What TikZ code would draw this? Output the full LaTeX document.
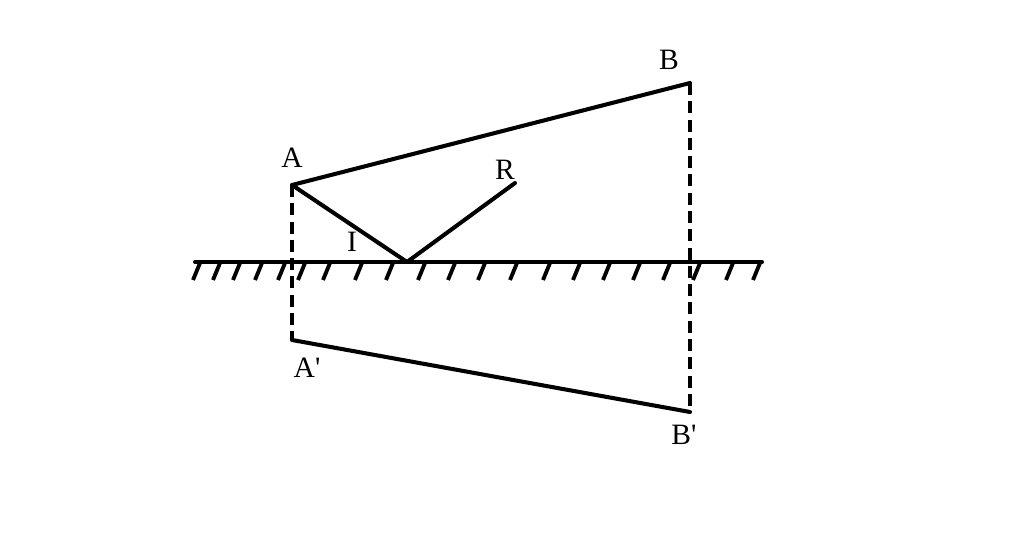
\documentclass[tikz,border=0pt]{standalone}
\usepackage{fontspec}
\setmainfont{Liberation Serif}
\newfontfamily\lblfont{Liberation Serif}
\begin{document}
\begin{tikzpicture}[x=0.01cm,y=-0.01cm,
  ray/.style={line width=1.15pt,line cap=round,line join=round},
  guide/.style={line width=1.15pt,dash pattern=on 3.4pt off 1.8pt},
  hatch/.style={line width=1.1pt},
  lbl/.style={font=\lblfont\fontsize{8.4}{10}\selectfont,inner sep=0pt}]
\useasboundingbox (0,0) rectangle (1024,534);
\coordinate (A) at (292,185);
\coordinate (B) at (690,83);
\coordinate (Ap) at (292,340);
\coordinate (Bp) at (690,412);
\coordinate (I) at (407,262);
\coordinate (R) at (515,183);
\coordinate (ML) at (195,262);
\coordinate (MR) at (762,262);
\draw[ray] (ML) -- (MR);
\foreach \x in {200,220,240,262,285,305,330,362,393,425,455,485,517,550,580,610,640,670,700,733,760}
  \draw[hatch] (\x,263) -- ++(-7,17);
\draw[guide] (A) -- (Ap);
\draw[guide] (B) -- (Bp);
\draw[ray] (A) -- (B);
\draw[ray] (Ap) -- (Bp);
\draw[ray] (A) -- (I) -- (R);
\node[lbl] (lA) at (292,158) {A};
\node[lbl] (lB) at (669,60) {B};
\node[lbl] (lR) at (505,170) {R};
\node[lbl] (lI) at (352,242) {I};
\node[lbl] (lAp) at (307,368) {A'};
\node[lbl] (lBp) at (684,435) {B'};
\end{tikzpicture}
\end{document}
